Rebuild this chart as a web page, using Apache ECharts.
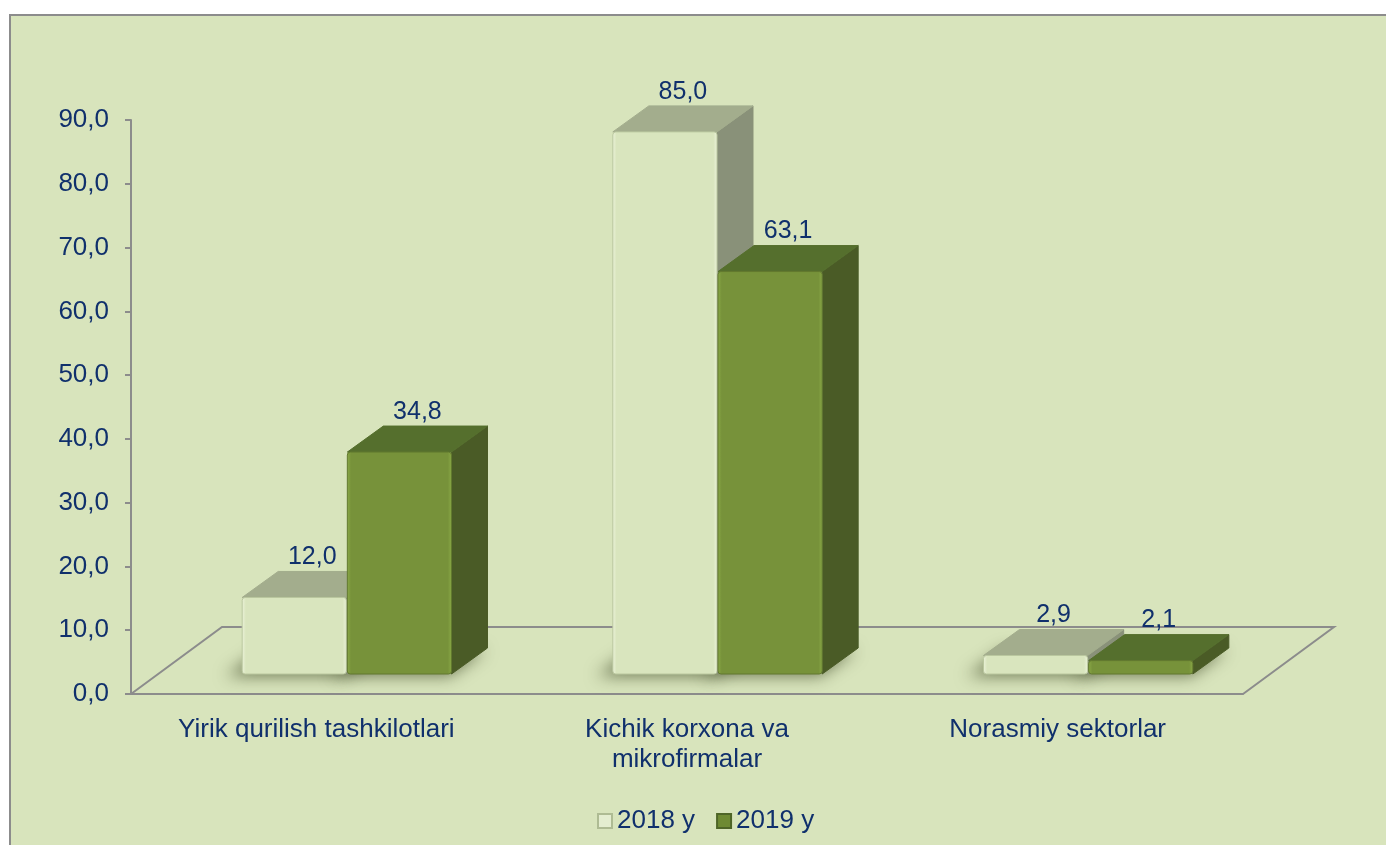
<!DOCTYPE html>
<html>
<head>
    <meta charset="utf-8">
    <title>ECharts</title>
    <script src="https://cdn.jsdelivr.net/npm/echarts@6/dist/echarts.min.js"></script>
    <style type="text/css">
        html, body {
            margin: 0;
            height: 100%;
            background: #fff;
        }
    </style>
</head>
<body>
<div id="main" style="width: 1386px;height:845px;"></div>
<script type="text/javascript">
    var categories = ['Yirik qurilish tashkilotlari', 'Kichik korxona va\nmikrofirmalar', 'Norasmiy sektorlar'];
    var seriesNames = ['2018 y', '2019 y'];
    var values2018 = [12.0, 85.0, 2.9];
    var values2019 = [34.8, 63.1, 2.1];
    var yMin = 0, yMax = 90, yStep = 10;

    var textColor = '#10306C';
    var fontFamily = '"Liberation Sans", Arial, sans-serif';

    // look of the fake 3d boxes
    var FRONT = [30, -20];   // where the front face sits on the floor
    var DEPTH = [36, -26];   // box depth
    var FLOOR = [91, -67];   // floor depth
    var FAR = 3000;          // shadow shapes are drawn off screen, only their blur is seen

    var faces = [
        {front: '#D9E5BE', edge: '#ECF3DA', top: '#A3AD8D', side: '#899179', line: '#BAC79F'},
        {front: '#77923A', edge: '#8BAA47', top: '#556F2D', side: '#4A5B26', line: '#62792F'}
    ];

    function fmt(v) {
        return v.toFixed(1).replace('.', ',');
    }

    function barRenderer(s) {
        return function (params, api) {
            var idx = api.value(0);
            var val = api.value(1);
            var base = api.coord([idx, 0]);
            var top = api.coord([idx, val]);
            var band = api.size([1, 0])[0];
            var w = band * 0.281;
            var cx = base[0] + FRONT[0];
            var x0 = s === 0 ? cx - w : cx + 1;
            var yb = base[1] + FRONT[1];
            var yt = yb - (base[1] - top[1]);
            var dx = DEPTH[0], dy = DEPTH[1];
            var f = faces[s];
            var z = idx * 4 + s * 2;
            return {
                type: 'group',
                children: [
                    {
                        type: 'polygon',
                        z2: -10,
                        shape: {points: [
                            [x0 - 16 - FAR, yb + 2], [x0 + w - 2 - FAR, yb + 2],
                            [x0 + w + dx - 2 - FAR, yb + dy + 2], [x0 + dx - 16 - FAR, yb + dy + 2]
                        ]},
                        style: {
                            fill: '#000',
                            shadowBlur: 16,
                            shadowOffsetX: FAR,
                            shadowColor: 'rgba(55,65,30,0.65)'
                        }
                    },
                    {
                        type: 'polygon',
                        z2: z,
                        shape: {points: [[x0 + w, yt], [x0 + w, yb], [x0 + w + dx, yb + dy], [x0 + w + dx, yt + dy]]},
                        style: {fill: f.side, stroke: f.side, lineWidth: 1}
                    },
                    {
                        type: 'polygon',
                        z2: z,
                        shape: {points: [[x0, yt], [x0 + w, yt], [x0 + w + dx, yt + dy], [x0 + dx, yt + dy]]},
                        style: {fill: f.top, stroke: f.top, lineWidth: 1}
                    },
                    {
                        type: 'rect',
                        z2: z + 1,
                        shape: {x: x0, y: yt, width: w, height: yb - yt, r: 3},
                        style: {
                            fill: new echarts.graphic.LinearGradient(0, 0, 1, 0, [
                                {offset: 0, color: f.edge},
                                {offset: 0.04, color: f.front},
                                {offset: 0.96, color: f.front},
                                {offset: 1, color: f.edge}
                            ]),
                            stroke: f.line, lineWidth: 1
                        }
                    },
                    {
                        type: 'text',
                        z2: 50,
                        style: {
                            text: fmt(val),
                            x: x0 + w / 2 + dx / 2,
                            y: yt + dy - 14,
                            align: 'center',
                            verticalAlign: 'middle',
                            fill: textColor,
                            font: '25px ' + fontFamily
                        }
                    }
                ]
            };
        };
    }

    function floorRenderer(params, api) {
        var cs = params.coordSys;
        var x = cs.x, y = cs.y + cs.height, r = cs.x + cs.width;
        return {
            type: 'polyline',
            shape: {points: [[x, y], [x + FLOOR[0], y + FLOOR[1]], [r + FLOOR[0], y + FLOOR[1]], [r, y]]},
            style: {fill: null, stroke: '#8C8C8C', lineWidth: 2}
        };
    }

    function toData(arr) {
        return arr.map(function (v, i) { return [i, v]; });
    }

    var myChart = echarts.init(document.getElementById('main'), null, {renderer: 'canvas'});

    var option = {
        backgroundColor: '#ffffff',
        animation: false,
        graphic: [{
            type: 'rect',
            z: -10,
            shape: {x: 10, y: 15, width: 1400, height: 850},
            style: {fill: '#D8E4BC', stroke: '#8C8C8C', lineWidth: 2}
        }],
        grid: {
            left: 131,
            right: 143,
            top: 120,
            bottom: 151
        },
        legend: {
            data: seriesNames,
            left: 592,
            top: 803,
            itemWidth: 14,
            itemHeight: 14,
            itemGap: 21,
            icon: 'rect',
            textStyle: {color: textColor, fontSize: 26, fontFamily: fontFamily}
        },
        xAxis: {
            type: 'category',
            data: categories,
            axisLine: {lineStyle: {color: '#8C8C8C', width: 2}},
            axisTick: {length: 6, lineStyle: {color: '#8C8C8C', width: 2}},
            axisLabel: {
                color: textColor,
                fontSize: 26,
                fontFamily: fontFamily,
                lineHeight: 30,
                margin: 21
            }
        },
        yAxis: {
            type: 'value',
            min: yMin,
            max: yMax,
            interval: yStep,
            axisLine: {show: true, lineStyle: {color: '#8C8C8C', width: 2}},
            axisTick: {show: true, length: 6, lineStyle: {color: '#8C8C8C', width: 2}},
            splitLine: {show: false},
            axisLabel: {
                color: textColor,
                fontSize: 26,
                fontFamily: fontFamily,
                margin: 22,
                formatter: fmt
            }
        },
        series: [
            {
                name: 'floor',
                type: 'custom',
                z: 1,
                silent: true,
                renderItem: floorRenderer,
                data: [[0, 0]]
            },
            {
                name: seriesNames[0],
                type: 'custom',
                renderItem: barRenderer(0),
                itemStyle: {color: '#E4EDD0', borderColor: '#AEBB93', borderWidth: 1},
                encode: {x: 0, y: 1},
                data: toData(values2018)
            },
            {
                name: seriesNames[1],
                type: 'custom',
                renderItem: barRenderer(1),
                itemStyle: {color: '#6E8A33', borderColor: '#4E6527', borderWidth: 1},
                encode: {x: 0, y: 1},
                data: toData(values2019)
            }
        ]
    };

    myChart.setOption(option);
</script>
</body>
</html>
